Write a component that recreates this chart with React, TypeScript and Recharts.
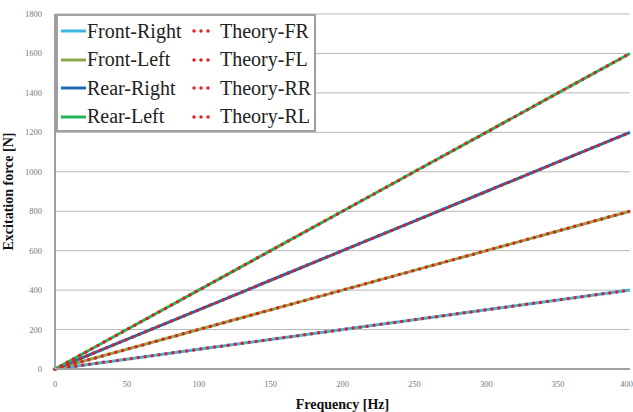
import {
  LineChart,
  Line,
  XAxis,
  YAxis,
  CartesianGrid,
} from "recharts"

const freq = [0, 50, 100, 150, 200, 250, 300, 350, 400]
const frontRight = [0, 50, 100, 150, 200, 250, 300, 350, 400]
const frontLeft = [0, 100, 200, 300, 400, 500, 600, 700, 800]
const rearRight = [0, 150, 300, 450, 600, 750, 900, 1050, 1200]
const rearLeft = [0, 200, 400, 600, 800, 1000, 1200, 1400, 1600]
const theoryFR = [0, 50, 100, 150, 200, 250, 300, 350, 400]
const theoryFL = [0, 100, 200, 300, 400, 500, 600, 700, 800]
const theoryRR = [0, 150, 300, 450, 600, 750, 900, 1050, 1200]
const theoryRL = [0, 200, 400, 600, 800, 1000, 1200, 1400, 1600]

const xTicks = [0, 50, 100, 150, 200, 250, 300, 350, 400]
const yTicks = [0, 200, 400, 600, 800, 1000, 1200, 1400, 1600, 1800]

const data = freq.map((f, i) => ({
  f,
  fr: frontRight[i],
  fl: frontLeft[i],
  rr: rearRight[i],
  rl: rearLeft[i],
  tfr: theoryFR[i],
  tfl: theoryFL[i],
  trr: theoryRR[i],
  trl: theoryRL[i],
}))

const measured = [
  { key: "fr", name: "Front-Right", color: "#3cb6e3" },
  { key: "fl", name: "Front-Left", color: "#8ea64a" },
  { key: "rr", name: "Rear-Right", color: "#1f6db0" },
  { key: "rl", name: "Rear-Left", color: "#27b35c" },
]
const theory = [
  { key: "tfr", name: "Theory-FR" },
  { key: "tfl", name: "Theory-FL" },
  { key: "trr", name: "Theory-RR" },
  { key: "trl", name: "Theory-RL" },
]
const RED = "#e3201c"
const serif = "serif"

// legend box drawn over the top-left of the plot
const LegendBox = () => (
  <div
    style={{
      position: "absolute",
      left: 56,
      top: 14,
      border: "2px solid #a0a0a0",
      background: "#fff",
      width: 260,
      height: 118,
      fontFamily: serif,
      fontSize: 20,
      color: "#222",
      boxSizing: "border-box",
      paddingTop: 1,
      whiteSpace: "nowrap",
    }}
  >
    {measured.map((m, i) => (
      <div key={m.key} style={{ display: "flex", alignItems: "center", height: 28.5 }}>
        <svg width={28} height={10} style={{ marginLeft: 1, flexShrink: 0 }}>
          <line x1={2} y1={5} x2={27} y2={5} stroke={m.color} strokeWidth={3} />
        </svg>
        <span style={{ width: 104, display: "inline-block" }}>{m.name}</span>
        <svg width={26} height={10} style={{ flexShrink: 0 }}>
          <line x1={3} y1={5} x2={23} y2={5} stroke={RED} strokeWidth={3.5}
            strokeDasharray="0 7" strokeLinecap="round" />
        </svg>
        <span style={{ marginLeft: 3 }}>{theory[i].name}</span>
      </div>
    ))}
  </div>
)

const tickStyle = { fontSize: 8.5, fill: "#777", fontFamily: serif }

const App = () => {
  return (
    <div style={{ position: "relative", background: "#fff", width: 633, height: 412 }}>
      <style>{`body{margin:0}`}</style>
      <LineChart
        width={633}
        height={412}
        data={data}
        margin={{ top: 14, right: 3, bottom: 0, left: 0 }}
      >
        <CartesianGrid vertical={false} stroke="#b8b8b8" strokeWidth={1} />
        <XAxis
          dataKey="f"
          type="number"
          domain={[0, 400]}
          ticks={xTicks}
          height={43}
          tick={tickStyle}
          tickLine={false}
          axisLine={{ stroke: "#a0a0a0", strokeWidth: 2 }}
          tickMargin={6}
          label={{
            value: "Frequency [Hz]",
            position: "insideBottom",
            offset: 3,
            style: { fontFamily: serif, fontWeight: "bold", fontSize: 14, fill: "#111" },
          }}
        />
        <XAxis
          xAxisId="top"
          orientation="top"
          dataKey="f"
          type="number"
          domain={[0, 400]}
          height={0}
          tick={false}
          tickLine={false}
          axisLine={{ stroke: "#a0a0a0", strokeWidth: 1 }}
        />
        <YAxis
          domain={[0, 1800]}
          ticks={yTicks}
          width={55}
          tick={tickStyle}
          tickLine={false}
          axisLine={{ stroke: "#a0a0a0", strokeWidth: 2 }}
          tickMargin={7}
          label={{
            value: "Excitation force [N]",
            angle: -90,
            position: "insideLeft",
            offset: 8,
            style: { textAnchor: "middle", fontFamily: serif, fontWeight: "bold", fontSize: 14, fill: "#111" },
          }}
        />
        <YAxis
          yAxisId="right"
          orientation="right"
          domain={[0, 1800]}
          width={0}
          tick={false}
          tickLine={false}
          axisLine={{ stroke: "#a0a0a0", strokeWidth: 2 }}
        />
        {measured.map((m) => (
          <Line
            key={m.key}
            dataKey={m.key}
            name={m.name}
            type="linear"
            stroke={m.color}
            strokeWidth={3}
            dot={false}
            isAnimationActive={false}
          />
        ))}
        {theory.map((t) => (
          <Line
            key={t.key}
            dataKey={t.key}
            name={t.name}
            type="linear"
            stroke={RED}
            strokeWidth={3.5}
            strokeDasharray="0 7"
            strokeLinecap="round"
            dot={false}
            isAnimationActive={false}
          />
        ))}
      </LineChart>
      <LegendBox />
    </div>
  )
}

export default App
